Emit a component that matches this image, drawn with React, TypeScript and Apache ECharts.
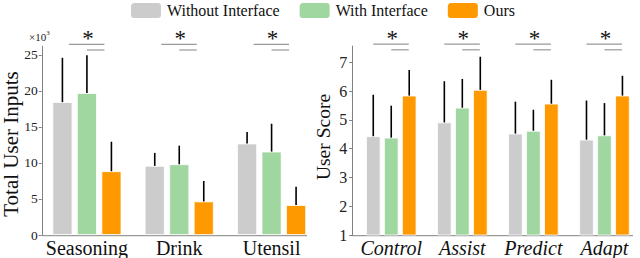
import React, { useEffect, useRef } from "react";
import * as echarts from "echarts";

// ---------- data ----------
const seriesNames = ["Without Interface", "With Interface", "Ours"];
const colors = ["#cccccc", "#a0d6a0", "#ff9900"];

const leftCategories = ["Seasoning", "Drink", "Utensil"];
const leftWithout = [18.45, 9.6, 12.7];
const leftWithoutErr = [6.15, 1.8, 1.6];
const leftWith = [19.7, 9.82, 11.58];
const leftWithErr = [5.25, 2.58, 3.87];
const leftOurs = [8.85, 4.66, 4.15];
const leftOursErr = [4.1, 2.84, 2.55];
const leftYTicks = [0, 5, 10, 15, 20, 25];

const rightCategories = ["Control", "Assist", "Predict", "Adapt"];
const rightWithout = [4.43, 4.91, 4.52, 4.31];
const rightWithoutErr = [1.44, 1.43, 1.11, 1.36];
const rightWith = [4.38, 5.42, 4.62, 4.46];
const rightWithErr = [1.11, 1.0, 0.73, 1.12];
const rightOurs = [5.84, 6.04, 5.56, 5.84];
const rightOursErr = [0.89, 1.15, 0.83, 0.69];
const rightYTicks = [1, 2, 3, 4, 5, 6, 7];

const LEFT_MAX = 26.2;
const RIGHT_MAX = 7.56;

const FONT = "Liberation Serif";
const AXIS_COLOR = "#808080";

export default function App() {
  const ref = useRef<HTMLDivElement>(null);

  useEffect(() => {
    if (!ref.current) return;
    const chart = echarts.init(ref.current, undefined, { renderer: "svg" });

    const barWL = 20, gapL = 0.225;
    const barWR = 14.5, gapR = 0.24;
    const spacingL = barWL * (1 + gapL);
    const spacingR = barWR * (1 + gapR);

    const leftGroups = [
      [leftWithout, leftWithoutErr],
      [leftWith, leftWithErr],
      [leftOurs, leftOursErr],
    ];
    const rightGroups = [
      [rightWithout, rightWithoutErr],
      [rightWith, rightWithErr],
      [rightOurs, rightOursErr],
    ];

    const errData = (groups: number[][][]) => {
      const out: number[][] = [];
      groups.forEach((g, k) => {
        g[0].forEach((m, i) => out.push([i, m, g[1][i], k]));
      });
      return out;
    };

    const errRender = (spacing: number) => (params: any, api: any) => {
      const cat = api.value(0);
      const mean = api.value(1);
      const err = api.value(2);
      const k = api.value(3);
      const p0 = api.coord([cat, mean]);
      const p1 = api.coord([cat, mean + err]);
      const x = p0[0] + (k - 1) * spacing;
      return {
        type: "line",
        shape: { x1: x, y1: p0[1], x2: x, y2: p1[1] },
        style: { stroke: "#000", lineWidth: 1.6 },
      };
    };

    const sigRender = (params: any, api: any) => {
      const cat = api.value(0);
      const top = api.value(1);
      const c = api.coord([cat, top]);
      const cx = c[0];
      const y = c[1];
      return {
        type: "group",
        children: [
          {
            type: "line",
            shape: { x1: cx - 18, y1: y - 2, x2: cx + 17.5, y2: y - 2 },
            style: { stroke: "#999", lineWidth: 1.2 },
          },
          {
            type: "line",
            shape: { x1: cx, y1: y + 3.7, x2: cx + 17.5, y2: y + 3.7 },
            style: { stroke: "#999", lineWidth: 1.2 },
          },
          {
            type: "text",
            style: {
              text: "*",
              x: cx + 1,
              y: y - 8,
              align: "center",
              verticalAlign: "middle",
              fontSize: 23,
              fontFamily: FONT,
              fill: "#111",
            },
          },
        ],
      };
    };

    const barSeries = (
      name: string,
      data: number[],
      color: string,
      idx: number,
      w: number,
      gap: number
    ) => ({
      type: "bar",
      name,
      data,
      xAxisIndex: idx,
      yAxisIndex: idx,
      barWidth: w,
      barGap: `${gap * 100}%`,
      itemStyle: { color, borderColor: "#fff", borderWidth: 0.8 },
      z: 2,
    });

    const yAxisBase = {
      type: "value",
      splitLine: { show: false },
      axisTick: { show: true, length: 3, lineStyle: { color: AXIS_COLOR } },
      axisLine: { show: true, lineStyle: { color: AXIS_COLOR, width: 1 } },
    };

    const legendText = { fontSize: 16, fontFamily: FONT, color: "#111" };

    const option: any = {
      animation: false,
      textStyle: { fontFamily: FONT },
      legend: {
        top: 1,
        left: 129,
        padding: 0,
        itemWidth: 32,
        itemHeight: 17,
        itemGap: 18,
        icon: "roundRect",
        textStyle: legendText,
        data: seriesNames.map((n) => ({ name: n, textStyle: legendText })),
      },
      grid: [
        { left: 40.75, width: 277, top: 46.3, bottom: 22.3, containLabel: false },
        { left: 355.7, width: 288, top: 46.1, bottom: 22.3, containLabel: false },
      ],
      xAxis: [
        {
          type: "category",
          gridIndex: 0,
          data: leftCategories,
          axisLine: { show: false },
          axisTick: { show: false },
          axisLabel: { interval: 0, fontSize: 20, fontFamily: FONT, color: "#111", margin: 3 },
        },
        {
          type: "category",
          gridIndex: 1,
          data: rightCategories,
          axisLine: { show: false },
          axisTick: { show: false },
          axisLabel: { interval: 0, fontSize: 20, fontStyle: "italic", fontFamily: FONT, color: "#111", margin: 3 },
        },
      ],
      yAxis: [
        {
          ...yAxisBase,
          gridIndex: 0,
          min: leftYTicks[0],
          max: LEFT_MAX,
          interval: 5,
          offset: -1,
          axisLabel: { showMaxLabel: false, fontSize: 13.5, fontFamily: FONT, color: "#222", margin: 4 },
        },
        {
          ...yAxisBase,
          gridIndex: 1,
          min: rightYTicks[0],
          max: RIGHT_MAX,
          interval: 1,
          offset: 3.5,
          axisLabel: { showMaxLabel: false, fontSize: 16, fontFamily: FONT, color: "#222", margin: 5 },
        },
      ],
      graphic: [
        { type: "line", shape: { x1: 42, y1: 235.7, x2: 307, y2: 235.7 }, style: { stroke: AXIS_COLOR, lineWidth: 1 } },
        { type: "line", shape: { x1: 352, y1: 235.7, x2: 633, y2: 235.7 }, style: { stroke: AXIS_COLOR, lineWidth: 1 } },
        {
          type: "text",
          x: 11,
          y: 144,
          rotation: Math.PI / 2,
          style: { text: "Total User Inputs", fontSize: 21, fontFamily: FONT, fill: "#111", align: "center", verticalAlign: "middle" },
        },
        {
          type: "text",
          x: 323,
          y: 137,
          rotation: Math.PI / 2,
          style: { text: "User Score", fontSize: 19.5, fontFamily: FONT, fill: "#111", align: "center", verticalAlign: "middle" },
        },
        {
          type: "text",
          x: 29,
          y: 29,
          style: {
            text: "{a|×10}{b|3}",
            fontFamily: FONT,
            fill: "#222",
            rich: {
              a: { fontSize: 11, fontFamily: FONT, color: "#222", verticalAlign: "bottom" },
              b: { fontSize: 7, fontFamily: FONT, color: "#222", verticalAlign: "top", padding: [0, 0, 6, 0] },
            },
          },
        },
      ],
      series: [
        barSeries(seriesNames[0], leftWithout, colors[0], 0, barWL, gapL),
        barSeries(seriesNames[1], leftWith, colors[1], 0, barWL, gapL),
        barSeries(seriesNames[2], leftOurs, colors[2], 0, barWL, gapL),
        barSeries(seriesNames[0], rightWithout, colors[0], 1, barWR, gapR),
        barSeries(seriesNames[1], rightWith, colors[1], 1, barWR, gapR),
        barSeries(seriesNames[2], rightOurs, colors[2], 1, barWR, gapR),
        {
          type: "custom",
          xAxisIndex: 0,
          yAxisIndex: 0,
          data: errData(leftGroups),
          renderItem: errRender(spacingL),
          encode: { x: 0, y: 1 },
          clip: false,
          z: 5,
          silent: true,
        },
        {
          type: "custom",
          xAxisIndex: 1,
          yAxisIndex: 1,
          data: errData(rightGroups),
          renderItem: errRender(spacingR),
          encode: { x: 0, y: 1 },
          clip: false,
          z: 5,
          silent: true,
        },
        {
          type: "custom",
          xAxisIndex: 0,
          yAxisIndex: 0,
          data: leftCategories.map((_, i) => [i, LEFT_MAX]),
          renderItem: sigRender,
          encode: { x: 0, y: 1 },
          clip: false,
          z: 5,
          silent: true,
        },
        {
          type: "custom",
          xAxisIndex: 1,
          yAxisIndex: 1,
          data: rightCategories.map((_, i) => [i, RIGHT_MAX]),
          renderItem: sigRender,
          encode: { x: 0, y: 1 },
          clip: false,
          z: 5,
          silent: true,
        },
      ],
    };

    chart.setOption(option);
    return () => chart.dispose();
  }, []);

  return <div ref={ref} style={{ width: 640, height: 258, position: "absolute", left: 0, top: 0 }} />;
}
